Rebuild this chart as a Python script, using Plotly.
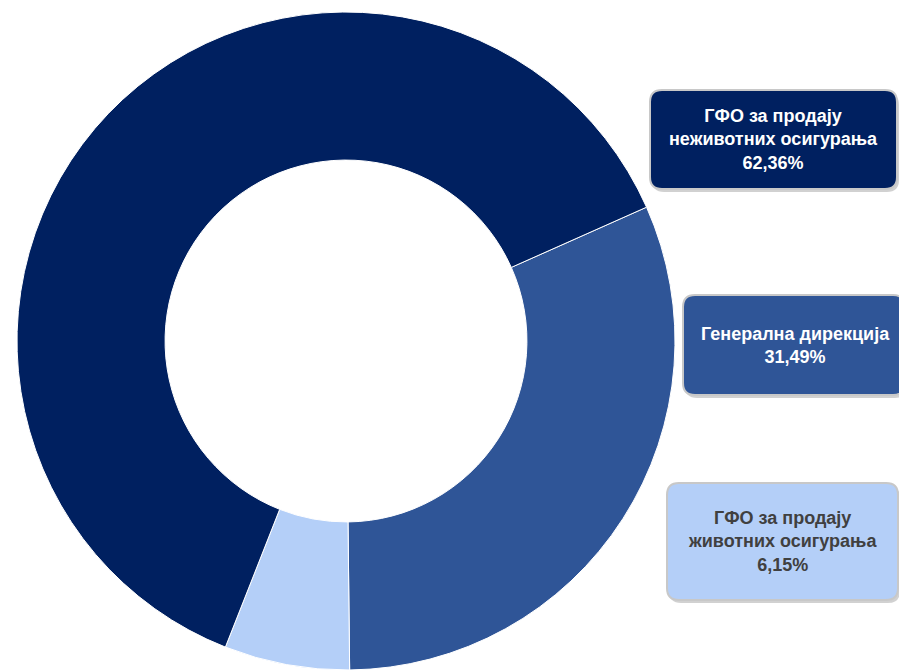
import plotly.graph_objects as go

W, H = 899, 670

# podaci
labels = ["Генерална дирекција", "ГФО за продају животних осигурања", "ГФО за продају неживотних осигурања"]
box_text = ["Генерална дирекција", "ГФО за продају<br>животних осигурања", "ГФО за продају<br>неживотних осигурања"]
values = [31.49, 6.15, 62.36]
colors = ["#2F5597", "#B4CFF8", "#002060"]
text_colors = ["#FFFFFF", "#404040", "#FFFFFF"]

# kutije (px): left, top, right, bottom
boxes = [(683, 295, 905, 395), (667, 483, 898, 600), (650, 90, 897, 189)]


def px_x(v):
    return v / W


def px_y(v):
    return 1 - v / H


def rounded(x0, y0, x1, y1, r=12):
    pts = [
        f"M {px_x(x0 + r)},{px_y(y0)}",
        f"L {px_x(x1 - r)},{px_y(y0)}",
        f"Q {px_x(x1)},{px_y(y0)} {px_x(x1)},{px_y(y0 + r)}",
        f"L {px_x(x1)},{px_y(y1 - r)}",
        f"Q {px_x(x1)},{px_y(y1)} {px_x(x1 - r)},{px_y(y1)}",
        f"L {px_x(x0 + r)},{px_y(y1)}",
        f"Q {px_x(x0)},{px_y(y1)} {px_x(x0)},{px_y(y1 - r)}",
        f"L {px_x(x0)},{px_y(y0 + r)}",
        f"Q {px_x(x0)},{px_y(y0)} {px_x(x0 + r)},{px_y(y0)}",
        "Z",
    ]
    return " ".join(pts)


fig = go.Figure(go.Pie(
    labels=labels,
    values=values,
    hole=0.55,
    sort=False,
    direction="clockwise",
    rotation=66,
    marker=dict(colors=colors, line=dict(color="white", width=1)),
    textinfo="none",
    hoverinfo="label+percent",
    domain=dict(x=[17 / W, 675 / W], y=[0, 658 / H]),
))

shapes = []
annotations = []
for (x0, y0, x1, y1), txt, val, col, tcol in zip(boxes, box_text, values, colors, text_colors):
    # sjena
    shapes.append(dict(type="path", xref="paper", yref="paper",
                       path=rounded(x0 + 2, y0 + 3, x1 + 2, y1 + 3),
                       fillcolor="rgba(0,0,0,0.18)", line=dict(width=0), layer="above"))
    shapes.append(dict(type="path", xref="paper", yref="paper",
                       path=rounded(x0, y0, x1, y1),
                       fillcolor=col, line=dict(color="#C8C8C8", width=2), layer="above"))
    pct = f"{val:.2f}".replace(".", ",") + "%"
    cx = (x0 + min(x1, W)) / 2 + (4 if x1 > W else 0)
    annotations.append(dict(
        x=px_x(cx), y=px_y((y0 + y1) / 2), xref="paper", yref="paper",
        text=f"<b>{txt}<br>{pct}</b>", showarrow=False, align="center",
        xanchor="center", yanchor="middle",
        font=dict(family="Liberation Sans, Arial", size=18, color=tcol),
    ))

fig.update_layout(
    width=W, height=H,
    margin=dict(l=0, r=0, t=0, b=0),
    paper_bgcolor="white",
    plot_bgcolor="white",
    showlegend=False,
    shapes=shapes,
    annotations=annotations,
)

fig.write_html("out.html", config={"displayModeBar": False},
               post_script="document.body.style.margin='0';")
